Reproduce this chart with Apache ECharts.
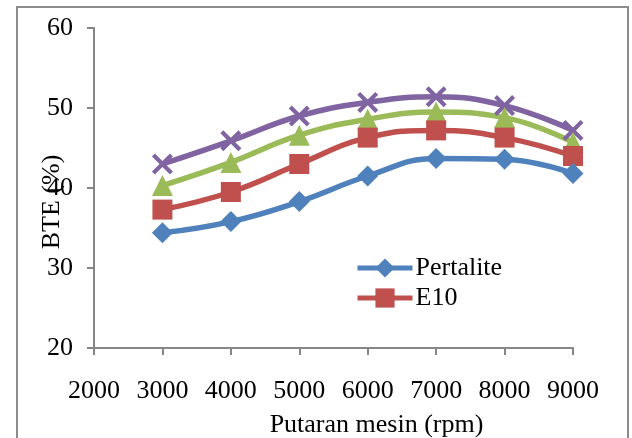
<!DOCTYPE html>
<html>
<head>
<meta charset="utf-8">
<script src="https://cdn.jsdelivr.net/npm/echarts@6/dist/echarts.min.js"></script>
<style>
  html, body { margin: 0; padding: 0; background: #fff; }
  #main { width: 632px; height: 438px; }
</style>
</head>
<body>
<div id="main"></div>
<script>
// putaran mesin (rpm)
const rpm = [3000, 4000, 5000, 6000, 7000, 8000, 9000];
// BTE (%) per bahan bakar
const pertalite = [34.4, 35.8, 38.3, 41.5, 43.7, 43.6, 41.8];
const e10 = [37.3, 39.5, 43.0, 46.3, 47.2, 46.3, 44.0];
const e20 = [40.3, 43.2, 46.6, 48.6, 49.5, 48.8, 45.7];
const e30 = [43.0, 45.9, 49.0, 50.7, 51.4, 50.3, 47.2];
const yTicks = [20, 30, 40, 50, 60];
const xTicks = [2000, 3000, 4000, 5000, 6000, 7000, 8000, 9000];

const font = 'Liberation Serif';
const axisGray = '#868686';

function pairs(vals) {
  return rpm.map((x, i) => [x, vals[i]]);
}

const xMark = 'path://M0,1.4 L1.4,0 L5,3.6 L8.6,0 L10,1.4 L6.4,5 L10,8.6 L8.6,10 L5,6.4 L1.4,10 L0,8.6 L3.6,5 Z';

function line(name, vals, color, symbol, size) {
  return {
    name: name,
    type: 'line',
    data: pairs(vals),
    smooth: 0.45,
    symbol: symbol,
    symbolSize: size,
    lineStyle: { color: color, width: 5.5 },
    itemStyle: { color: color },
    z: 2
  };
}

let myChart = echarts.init(document.getElementById('main'));
myChart.setOption({
  animation: false,
  backgroundColor: '#fff',
  textStyle: { fontFamily: font },
  grid: { left: 94, right: 59, top: 28, bottom: 90, containLabel: false, outerBoundsMode: 'none' },
  graphic: [
    {
      type: 'rect',
      shape: { x: 17, y: 7, width: 611, height: 445 },
      style: { fill: 'none', stroke: '#8c8c8c', lineWidth: 2 },
      z: -1
    },
    {
      // judul sumbu y, menimpa label 40 seperti aslinya
      type: 'text',
      x: 52,
      y: 202,
      rotation: Math.PI / 2,
      style: {
        text: 'BTE (%)',
        fontFamily: font,
        fontSize: 26,
        fill: '#000',
        align: 'center',
        verticalAlign: 'middle'
      },
      z: 10
    }
  ],
  legend: {
    data: ['Pertalite', 'E10'],
    orient: 'vertical',
    left: 355,
    top: 255,
    padding: 0,
    itemWidth: 55,
    itemHeight: 24,
    itemGap: 4,
    lineStyle: { width: 5 },
    textStyle: { fontFamily: font, fontSize: 26, color: '#000', padding: [0, 0, 0, -2] }
  },
  xAxis: {
    type: 'value',
    min: xTicks[0],
    max: xTicks[xTicks.length - 1],
    interval: 1000,
    name: 'Putaran mesin (rpm)',
    nameLocation: 'middle',
    nameGap: 64,
    nameTextStyle: { fontFamily: font, fontSize: 26, color: '#000', padding: [0, 0, 0, 86] },
    axisLine: { show: true, onZero: false, lineStyle: { color: axisGray, width: 2 } },
    axisTick: { show: true, inside: false, length: 7, lineStyle: { color: axisGray, width: 2 } },
    axisLabel: { fontFamily: font, fontSize: 26, color: '#000', margin: 30, formatter: v => String(v) },
    splitLine: { show: false }
  },
  yAxis: {
    type: 'value',
    min: yTicks[0],
    max: yTicks[yTicks.length - 1],
    interval: 10,
    axisLine: { show: true, lineStyle: { color: axisGray, width: 2 } },
    axisTick: { show: true, inside: false, length: 7, lineStyle: { color: axisGray, width: 2 } },
    axisLabel: { fontFamily: font, fontSize: 26, color: '#000', margin: 21 },
    splitLine: { show: false }
  },
  series: [
    line('E30', e30, '#8064a2', xMark, 21),
    line('E20', e20, '#9bbb59', 'triangle', 21),
    line('E10', e10, '#c0504d', 'rect', 20),
    line('Pertalite', pertalite, '#4f81bd', 'diamond', 21)
  ]
});
</script>
</body>
</html>
